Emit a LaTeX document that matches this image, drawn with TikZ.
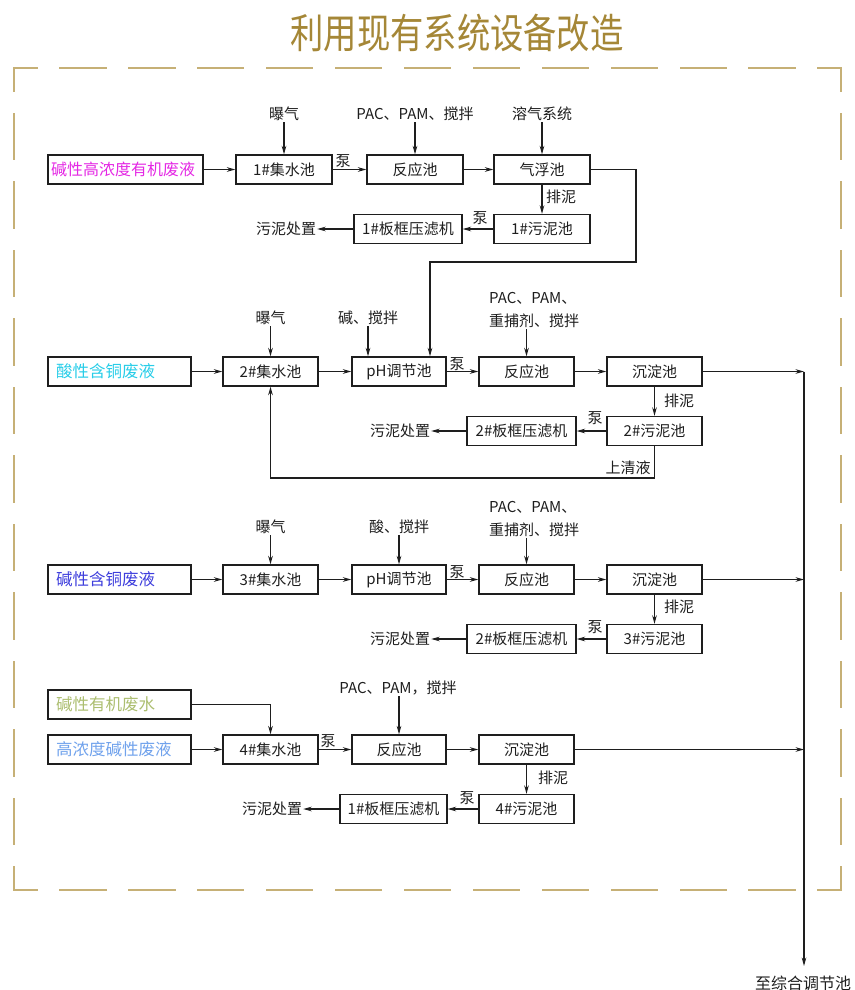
\documentclass[tikz,border=0pt]{standalone}
\usepackage{fontspec}
\usepackage{graphicx}
\setmainfont{Noto Sans CJK SC}
\usetikzlibrary{arrows.meta}
\definecolor{gold}{RGB}{198,176,118}
\definecolor{titlec}{RGB}{165,135,55}
\definecolor{cMag}{RGB}{228,40,228}
\definecolor{cCyan}{RGB}{40,205,232}
\definecolor{cViolet}{RGB}{62,62,220}
\definecolor{cOlive}{RGB}{172,190,112}
\definecolor{cLBlue}{RGB}{112,162,236}
\definecolor{ink}{RGB}{30,30,30}
\newcommand{\myfs}[1]{\fontsize{#1pt}{#1pt}\selectfont}
\tikzset{
  box/.style={draw=ink, line width=1.3pt, minimum height=29pt, inner sep=0pt, font=\myfs{15}, text=ink},
  src/.style={box, inner xsep=8pt, text width=127pt, minimum width=143pt, align=left, font=\myfs{16.5}},
  lbl/.style={inner sep=1pt, font=\myfs{15}, text=ink},
  flow/.style={draw=ink, line width=1.1pt, -{Stealth[length=8.5pt,width=4.6pt]}},
  pipe/.style={draw=ink, line width=1.1pt},
  border/.style={draw=gold, line width=2.4pt, line cap=rect},
}
\begin{document}
\begin{tikzpicture}[x=1pt,y=-1pt]
\useasboundingbox (0,0) rectangle (854,990);
% title
\node[text=titlec, font=\myfs{34}, inner sep=0pt] (title) at (457,33) {\scalebox{0.98}[1.2]{利用现有系统设备改造}};
% dashed frame
\draw[border, dash pattern=on 45pt off 23.92pt, dash phase=22.5pt] (14,68) -- (841,68);
\draw[border, dash pattern=on 45pt off 23.92pt, dash phase=22.5pt] (14,890) -- (841,890);
\draw[border, dash pattern=on 45pt off 23.5pt, dash phase=22.5pt] (14,68) -- (14,890);
\draw[border, dash pattern=on 45pt off 23.5pt, dash phase=22.5pt] (841,68) -- (841,890);

% ---------- row 1 ----------
\node[src, minimum width=155pt, text width=149pt, inner xsep=3pt, font=\myfs{16}, text=cMag] (src1) at (125.5,169.5) {碱性高浓度有机废液};
\node[box, minimum width=96pt] (c1) at (284,169.5) {1\#集水池};
\node[box, minimum width=96pt] (r1) at (415,169.5) {反应池};
\node[box, minimum width=96pt] (f1) at (542,169.5) {气浮池};
\node[box, minimum width=96pt] (s1) at (542,229) {1\#污泥池};
\node[box, minimum width=108pt] (p1) at (408,229) {1\#板框压滤机};
\node[lbl] (d1) at (286,229) {污泥处置};
\node[lbl] (a1) at (284,114) {曝气};
\node[lbl] (m1) at (415,114) {PAC、PAM、搅拌};
\node[lbl] (g1) at (542,114) {溶气系统};
\node[lbl] (b1a) at (343,161) {泵};
\node[lbl] (e1) at (561,197) {排泥};
\node[lbl] (b1b) at (480,218) {泵};
\draw[flow] (src1) -- (c1);
\draw[flow] (c1) -- (r1);
\draw[flow] (r1) -- (f1);
\draw[flow] (f1) -- (s1);
\draw[flow] (s1) -- (p1);
\draw[flow] (p1) -- (d1);
\draw[flow] (a1) -- (c1);
\draw[flow] (m1) -- (r1);
\draw[flow] (g1) -- (f1);

% ---------- row 2 ----------
\node[src, text=cCyan] (src2) at (119.5,371.5) {酸性含铜废液};
\node[box, minimum width=95pt] (c2) at (270.5,371.5) {2\#集水池};
\node[box, minimum width=94pt] (ph2) at (399,371.5) {pH调节池};
\node[box, minimum width=95pt] (r2) at (526.5,371.5) {反应池};
\node[box, minimum width=95pt] (sd2) at (654.5,371.5) {沉淀池};
\node[box, minimum width=95pt] (s2) at (654.5,431) {2\#污泥池};
\node[box, minimum width=109pt] (p2) at (521.5,431) {2\#板框压滤机};
\node[lbl] (d2) at (400,431) {污泥处置};
\node[lbl] (a2) at (270.5,318) {曝气};
\node[lbl] (k2) at (368,318) {碱、搅拌};
\node[lbl, align=left, anchor=west] (m2) at (488,310.5) {PAC、PAM、\\[8pt]重捕剂、搅拌};
\node[lbl] (b2a) at (457,364) {泵};
\node[lbl] (e2) at (679,401) {排泥};
\node[lbl] (b2b) at (595,418) {泵};
\node[lbl] (q2) at (628,468) {上清液};
\coordinate (k1) at (636,262);
\coordinate (k1b) at (430,262);
\coordinate (rt) at (0,478);
\coordinate (j2) at (804,371.5);
\coordinate (out) at (804,966);
\draw[flow] (f1.east) -- (f1.east -| k1) -- (k1) -- (k1b) -- (k1b |- ph2.north);
\draw[flow] (src2) -- (c2);
\draw[flow] (c2) -- (ph2);
\draw[flow] (ph2) -- (r2);
\draw[flow] (r2) -- (sd2);
\draw[flow] (sd2) -- (s2);
\draw[flow] (s2) -- (p2);
\draw[flow] (p2) -- (d2);
\draw[flow] (a2) -- (c2);
\draw[flow] (k2) -- (k2 |- ph2.north);
\draw[flow] (m2.south -| r2.north) -- (r2.north);
\draw[flow] (s2.south) -- (s2.south |- rt) -- (c2.south |- rt) -- (c2.south);
\draw[flow] (sd2.east) -- (j2);

% ---------- row 3 ----------
\node[src, text=cViolet] (src3) at (119.5,579.5) {碱性含铜废液};
\node[box, minimum width=95pt] (c3) at (270.5,579.5) {3\#集水池};
\node[box, minimum width=94pt] (ph3) at (399,579.5) {pH调节池};
\node[box, minimum width=95pt] (r3) at (526.5,579.5) {反应池};
\node[box, minimum width=95pt] (sd3) at (654.5,579.5) {沉淀池};
\node[box, minimum width=95pt] (s3) at (654.5,639) {3\#污泥池};
\node[box, minimum width=109pt] (p3) at (521.5,639) {2\#板框压滤机};
\node[lbl] (d3) at (400,639) {污泥处置};
\node[lbl] (a3) at (270.5,527) {曝气};
\node[lbl] (k3) at (399,527) {酸、搅拌};
\node[lbl, align=left, anchor=west] (m3) at (488,519) {PAC、PAM、\\[8pt]重捕剂、搅拌};
\node[lbl] (b3a) at (457,572) {泵};
\node[lbl] (e3) at (679,607) {排泥};
\node[lbl] (b3b) at (595,627) {泵};
\coordinate (j3) at (804,579.5);
\draw[flow] (src3) -- (c3);
\draw[flow] (c3) -- (ph3);
\draw[flow] (ph3) -- (r3);
\draw[flow] (r3) -- (sd3);
\draw[flow] (sd3) -- (s3);
\draw[flow] (s3) -- (p3);
\draw[flow] (p3) -- (d3);
\draw[flow] (a3) -- (c3);
\draw[flow] (k3) -- (ph3);
\draw[flow] (m3.south -| r3.north) -- (r3.north);
\draw[flow] (sd3.east) -- (j3);

% ---------- row 4 ----------
\node[src, text=cOlive] (src4a) at (119.5,704.5) {碱性有机废水};
\node[src, text=cLBlue] (src4b) at (119.5,749.5) {高浓度碱性废液};
\node[box, minimum width=95pt] (c4) at (270.5,749.5) {4\#集水池};
\node[box, minimum width=94pt] (r4) at (399,749.5) {反应池};
\node[box, minimum width=95pt] (sd4) at (526.5,749.5) {沉淀池};
\node[box, minimum width=95pt] (s4) at (526.5,809) {4\#污泥池};
\node[box, minimum width=107pt] (p4) at (393.5,809) {1\#板框压滤机};
\node[lbl] (d4) at (272,809) {污泥处置};
\node[lbl] (m4) at (398,688) {PAC、PAM，搅拌};
\node[lbl] (b4a) at (328,741) {泵};
\node[lbl] (e4) at (553,778) {排泥};
\node[lbl] (b4b) at (467,798) {泵};
\coordinate (j4) at (804,749.5);
\draw[flow] (src4a.east) -- (src4a.east -| c4.north) -- (c4.north);
\draw[flow] (src4b) -- (c4);
\draw[flow] (c4) -- (r4);
\draw[flow] (r4) -- (sd4);
\draw[flow] (sd4) -- (s4);
\draw[flow] (s4) -- (p4);
\draw[flow] (p4) -- (d4);
\draw[flow] (m4.south -| r4.north) -- (r4.north);
\draw[flow] (sd4.east) -- (j4);

% collector
\draw[flow] (j2) -- (out);
\node[lbl, font=\myfs{16}] (tgt) at (803,983) {至综合调节池};
\end{tikzpicture}
\end{document}
